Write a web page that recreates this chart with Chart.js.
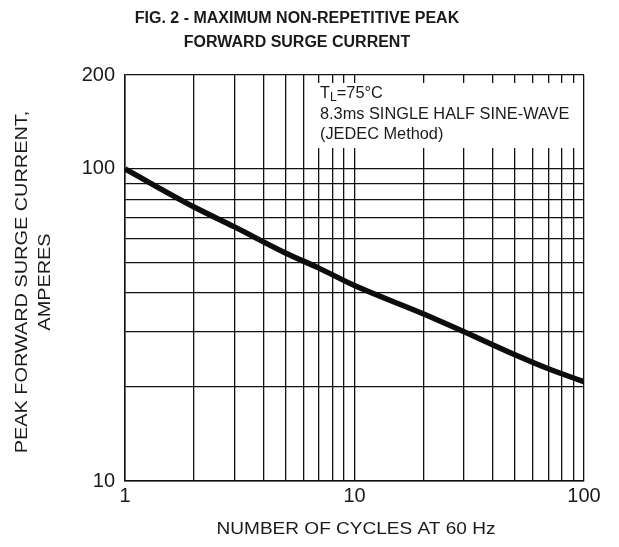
<!DOCTYPE html>
<html>
<head>
<meta charset="utf-8">
<script src="https://cdn.jsdelivr.net/npm/chart.js@4"></script>
<style>
  html, body { margin: 0; padding: 0; background: #fff; }
  #wrap { width: 619px; height: 547px; position: relative; }
</style>
</head>
<body>
<div id="wrap"><canvas id="myChart" width="619" height="547"></canvas></div>
<script>
// ciclos (eje x) y corriente de pico
const ciclos = [1, 2, 3, 5, 7, 10, 20, 30, 50, 70, 100];
const corriente = [100, 75.5, 65.2, 53.8, 48.1, 42.3, 34.3, 30.1, 25.4, 22.9, 20.8];

// posiciones de la rejilla
const ticksX = [1, 2, 3, 4, 5, 6, 7, 8, 9, 10, 20, 30, 40, 50, 60, 70, 80, 90, 100];
const ticksY = [10, 20, 30, 40, 50, 60, 70, 80, 90, 100, 200];
const etiquetasX = [1, 10, 100];
const etiquetasY = [10, 100, 200];

const titulo = ['FIG. 2 - MAXIMUM NON-REPETITIVE PEAK', 'FORWARD SURGE CURRENT'];
const tituloX = 'NUMBER OF CYCLES AT 60 Hz';
const tituloY = ['PEAK FORWARD SURGE CURRENT,', 'AMPERES'];
const nota = ['8.3ms SINGLE HALF SINE-WAVE', '(JEDEC Method)'];

const fuente = '"Liberation Sans", Arial, sans-serif';
const colorTexto = '#1a1a1a';

const textos = {
  id: 'textos',
  beforeDatasetsDraw(chart) {
    const ctx = chart.ctx;
    const area = chart.chartArea;
    // caja blanca de la nota
    ctx.save();
    ctx.fillStyle = '#fff';
    ctx.fillRect(310, 83, area.right - 313, 65);
    ctx.fillStyle = colorTexto;
    ctx.textBaseline = 'middle';
    ctx.textAlign = 'left';
    ctx.translate(320, 0);
    ctx.scale(1.02, 1);
    ctx.font = '16px ' + fuente;
    let x = 0;
    ctx.fillText('T', x, 94);
    x += ctx.measureText('T').width;
    ctx.font = '12px ' + fuente;
    ctx.fillText('L', x, 98);
    x += ctx.measureText('L').width;
    ctx.font = '16px ' + fuente;
    ctx.fillText('=75°C', x, 94);
    ctx.fillText(nota[0], 0, 115);
    ctx.fillText(nota[1], 0, 135);
    ctx.restore();
  },
  afterDraw(chart) {
    const ctx = chart.ctx;
    const area = chart.chartArea;
    ctx.save();
    ctx.fillStyle = colorTexto;
    ctx.textAlign = 'center';
    ctx.textBaseline = 'middle';
    ctx.font = 'bold 16px ' + fuente;
    ctx.fillText(titulo[0], 297, 19);
    ctx.fillText(titulo[1], 297, 43);

    ctx.save();
    ctx.translate(356, 529);
    ctx.scale(1.12, 1);
    ctx.font = '17px ' + fuente;
    ctx.fillText(tituloX, 0, 0);
    ctx.restore();

    ctx.translate(22, 282);
    ctx.rotate(-Math.PI / 2);
    ctx.scale(1.17, 1);
    ctx.font = '17px ' + fuente;
    ctx.fillText(tituloY[0], 0, 0);
    ctx.fillText(tituloY[1], 0, 23);
    ctx.restore();
  }
};

const ctx = document.getElementById('myChart').getContext('2d');
new Chart(ctx, {
  type: 'line',
  data: {
    datasets: [{
      data: ciclos.map((c, i) => ({ x: c, y: corriente[i] })),
      borderColor: '#0d0d0d',
      borderWidth: 5.5,
      pointRadius: 0,
      cubicInterpolationMode: 'monotone',
      fill: false
    }]
  },
  options: {
    responsive: false,
    animation: false,
    devicePixelRatio: 1,
    layout: { padding: { left: 0, top: 75, right: 35, bottom: 0 } },
    plugins: {
      legend: { display: false },
      tooltip: { enabled: false },
      title: { display: false }
    },
    scales: {
      x: {
        type: 'logarithmic',
        min: 1,
        max: 100,
        afterBuildTicks: s => { s.ticks = ticksX.map(v => ({ value: v })); },
        afterFit: s => { s.height = 66; },
        grid: { color: '#111', lineWidth: 1.3, drawTicks: false },
        border: { color: '#111', width: 1.5 },
        ticks: {
          autoSkip: false,
          maxRotation: 0,
          padding: 3,
          color: colorTexto,
          font: { family: fuente, size: 20 },
          callback: v => etiquetasX.includes(v) ? String(v) : ''
        }
      },
      y: {
        type: 'logarithmic',
        min: 10,
        max: 200,
        afterBuildTicks: s => { s.ticks = ticksY.map(v => ({ value: v })); },
        afterFit: s => { s.width = 125; },
        grid: { color: '#111', lineWidth: 1.3, drawTicks: false },
        border: { color: '#111', width: 1.5 },
        ticks: {
          autoSkip: false,
          padding: 10,
          color: colorTexto,
          font: { family: fuente, size: 20 },
          callback: v => etiquetasY.includes(v) ? String(v) : ''
        }
      }
    }
  },
  plugins: [textos]
});
</script>
</body>
</html>
